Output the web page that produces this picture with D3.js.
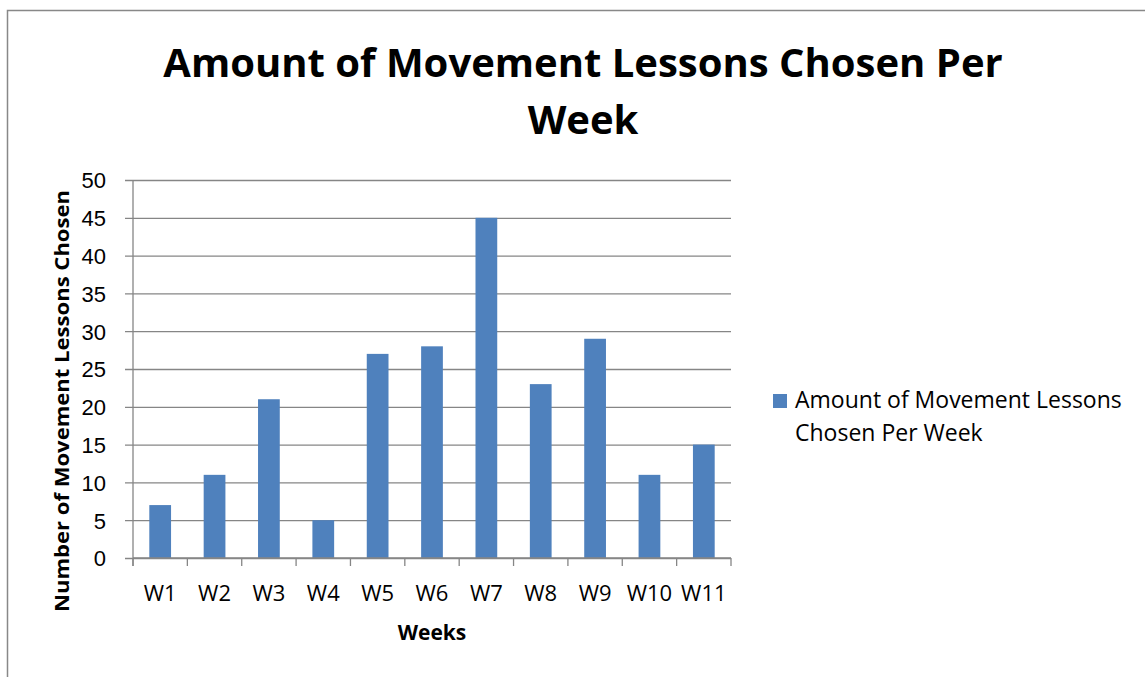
<!DOCTYPE html>
<html>
<head>
<meta charset="utf-8">
<script src="https://cdn.jsdelivr.net/npm/d3@7"></script>
<style>
  body { margin: 0; background: #fff; }
  svg { display: block; font-family: "Open Sans", sans-serif; }
</style>
</head>
<body>
<svg id="chart" width="1145" height="677"></svg>
<script>
var weeks = ["W1","W2","W3","W4","W5","W6","W7","W8","W9","W10","W11"];
var lessons = [7, 11, 21, 5, 27, 28, 45, 23, 29, 11, 15];
var yTicks = [0, 5, 10, 15, 20, 25, 30, 35, 40, 45, 50];
var titleLines = ["Amount of Movement Lessons Chosen Per", "Week"];
var legendLines = ["Amount of Movement Lessons", "Chosen Per Week"];

var barColor = "#4F81BD";
var gridColor = "#868686";

var svg = d3.select("#chart");

// outer frame (only top/left visible in the crop)
svg.append("rect")
  .attr("x", 7.5).attr("y", 10.5)
  .attr("width", 1200).attr("height", 700)
  .attr("fill", "none")
  .attr("stroke", "#888")
  .attr("stroke-width", 1.5);

var plot = { left: 133, right: 731, top: 180, bottom: 558 };

var xScale = d3.scaleBand()
  .domain(weeks)
  .range([plot.left, plot.right])
  .paddingInner(0.6)
  .paddingOuter(0.3);

var yScale = d3.scaleLinear()
  .domain([0, 50])
  .range([plot.bottom, plot.top]);

// gridlines + y ticks
var yAxis = d3.axisLeft(yScale)
  .tickValues(yTicks)
  .tickSize(-(plot.right - plot.left))
  .tickPadding(0)
  .tickFormat("");

var gy = svg.append("g")
  .attr("transform", "translate(" + plot.left + ",0)")
  .call(yAxis);
gy.select(".domain").remove();
gy.selectAll(".tick line")
  .attr("x1", -8)
  .attr("stroke", gridColor)
  .attr("stroke-width", 1.3);

gy.selectAll(".tick").append("text")
  .attr("x", -27)
  .attr("dy", "0.36em")
  .attr("text-anchor", "end")
  .attr("fill", "#000")
  .attr("font-size", 22)
  .text(function(d) { return d; });

// y axis line
svg.append("line")
  .attr("x1", plot.left).attr("x2", plot.left)
  .attr("y1", plot.top).attr("y2", plot.bottom + 8)
  .attr("stroke", gridColor).attr("stroke-width", 1.3);

// bars
svg.selectAll("rect.bar")
  .data(lessons)
  .enter()
  .append("rect")
  .attr("class", "bar")
  .attr("x", function(d, i) { return xScale(weeks[i]); })
  .attr("width", xScale.bandwidth())
  .attr("y", function(d) { return yScale(d); })
  .attr("height", function(d) { return yScale(0) - yScale(d); })
  .attr("fill", barColor);

// x axis with ticks between categories
var boundaries = d3.range(weeks.length + 1).map(function(i) {
  return plot.left + i * (plot.right - plot.left) / weeks.length;
});
svg.append("line")
  .attr("x1", plot.left).attr("x2", plot.right)
  .attr("y1", plot.bottom).attr("y2", plot.bottom)
  .attr("stroke", gridColor).attr("stroke-width", 1.3);
svg.selectAll("line.xtick")
  .data(boundaries)
  .enter()
  .append("line")
  .attr("class", "xtick")
  .attr("x1", function(d) { return d; }).attr("x2", function(d) { return d; })
  .attr("y1", plot.bottom).attr("y2", plot.bottom + 8)
  .attr("stroke", gridColor).attr("stroke-width", 1.3);

svg.selectAll("text.xlab")
  .data(weeks)
  .enter()
  .append("text")
  .attr("class", "xlab")
  .attr("x", function(d) { return xScale(d) + xScale.bandwidth() / 2; })
  .attr("y", 601)
  .attr("text-anchor", "middle")
  .attr("font-size", 22)
  .text(function(d) { return d; });

// axis titles
svg.append("text")
  .attr("x", 432).attr("y", 640)
  .attr("text-anchor", "middle")
  .attr("font-size", 21)
  .attr("font-weight", "bold")
  .text("Weeks");

svg.append("text")
  .attr("transform", "translate(69,401) rotate(-90)")
  .attr("text-anchor", "middle")
  .attr("font-size", 20)
  .attr("font-weight", "bold")
  .attr("textLength", 422)
  .attr("lengthAdjust", "spacingAndGlyphs")
  .text("Number of Movement Lessons Chosen");

// chart title
svg.selectAll("text.title")
  .data(titleLines)
  .enter()
  .append("text")
  .attr("class", "title")
  .attr("x", 583)
  .attr("y", function(d, i) { return 77 + i * 57; })
  .attr("text-anchor", "middle")
  .attr("font-size", 40)
  .attr("font-weight", "bold")
  .text(function(d) { return d; });

// legend
svg.append("rect")
  .attr("x", 773).attr("y", 394)
  .attr("width", 14).attr("height", 14)
  .attr("fill", barColor);

svg.selectAll("text.legend")
  .data(legendLines)
  .enter()
  .append("text")
  .attr("class", "legend")
  .attr("x", 795)
  .attr("y", function(d, i) { return 408 + i * 33; })
  .attr("font-size", 23)
  .text(function(d) { return d; });
</script>
</body>
</html>
